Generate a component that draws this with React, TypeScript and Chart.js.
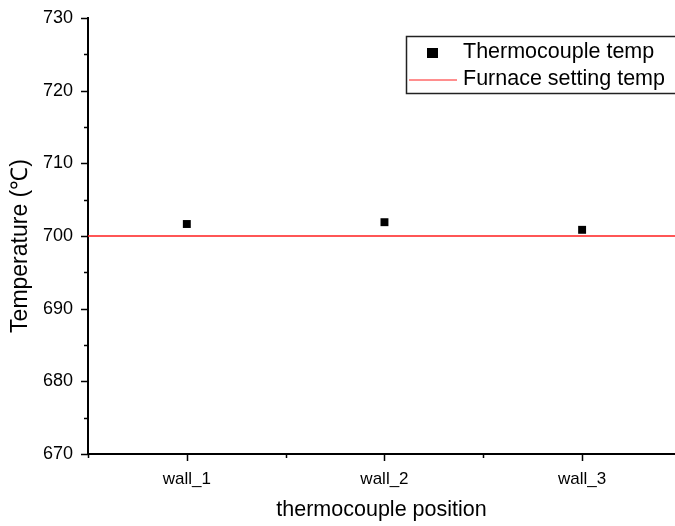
import React, { useEffect, useRef } from 'react';
import { Chart, registerables } from 'chart.js';

Chart.register(...registerables);

const categories = ['wall_1', 'wall_2', 'wall_3'];
const categoryPositions = [1, 2, 3];
const thermocoupleTemps = [701.65, 701.9, 700.85];
const furnaceSetting = 700;
const yMajorTicks = [670, 680, 690, 700, 710, 720, 730];
const yMinorTicks = [675, 685, 695, 705, 715, 725];
const xMajorTicks = [1, 2, 3];
const xMinorTicks = [0.5, 1.5, 2.5, 3.5];
const xMin = 0.5;
const xMax = 3.47;
const yMin = 670;
const yMax = 730;
const seriesLabels = ['Thermocouple temp', 'Furnace setting temp'];
const xTitle = 'thermocouple position';
const yTitle = 'Temperature (℃)';

const FONT = "'Liberation Sans', Arial, sans-serif";
const RED = 'rgb(255,30,30)';

const axisTicksPlugin = {
  id: 'axisTicks',
  afterDraw(chart: any) {
    const ctx = chart.ctx;
    const { left, bottom } = chart.chartArea;
    const ys = chart.scales.y;
    const xs = chart.scales.x;
    ctx.save();
    ctx.strokeStyle = '#000';
    ctx.lineWidth = 1.5;
    ctx.beginPath();
    yMajorTicks.forEach((v) => {
      const p = Math.round(ys.getPixelForValue(v)) + 0.5;
      ctx.moveTo(left - 7, p);
      ctx.lineTo(left, p);
    });
    yMinorTicks.forEach((v) => {
      const p = Math.round(ys.getPixelForValue(v)) + 0.5;
      ctx.moveTo(left - 4, p);
      ctx.lineTo(left, p);
    });
    xMajorTicks.forEach((v) => {
      const p = Math.round(xs.getPixelForValue(v)) + 0.5;
      ctx.moveTo(p, bottom);
      ctx.lineTo(p, bottom + 7);
    });
    xMinorTicks.forEach((v) => {
      const p = Math.round(xs.getPixelForValue(v)) + 0.5;
      ctx.moveTo(p, bottom);
      ctx.lineTo(p, bottom + 4);
    });
    ctx.stroke();
    // y axis title
    ctx.translate(21, 246);
    ctx.rotate(-Math.PI / 2);
    ctx.font = `23px ${FONT}`;
    ctx.fillStyle = '#000';
    ctx.textAlign = 'center';
    ctx.textBaseline = 'middle';
    ctx.fillText(yTitle, 0, 0);
    ctx.restore();
  },
};

const legendPlugin = {
  id: 'boxLegend',
  afterDraw(chart: any) {
    const ctx = chart.ctx;
    const ds = chart.data.datasets;
    ctx.save();
    ctx.strokeStyle = '#222';
    ctx.lineWidth = 1.5;
    ctx.strokeRect(406.5, 36.5, 320, 57);
    ctx.font = `21.5px ${FONT}`;
    ctx.textBaseline = 'middle';
    ctx.textAlign = 'left';
    ctx.fillStyle = ds[0].backgroundColor;
    ctx.fillRect(427, 48, 11, 10);
    ctx.fillStyle = '#000';
    ctx.fillText(ds[0].label, 463, 52);
    ctx.strokeStyle = ds[1].borderColor;
    ctx.lineWidth = 1;
    ctx.beginPath();
    ctx.moveTo(409, 80);
    ctx.lineTo(457, 80);
    ctx.stroke();
    ctx.fillText(ds[1].label, 463, 79);
    ctx.restore();
  },
};

export default function App() {
  const ref = useRef<HTMLCanvasElement>(null);
  useEffect(() => {
    if (!ref.current) return;
    const chart = new Chart(ref.current, {
      type: 'scatter',
      data: {
        datasets: [
          {
            label: seriesLabels[0],
            data: categoryPositions.map((x, i) => ({ x, y: thermocoupleTemps[i] })),
            backgroundColor: '#000',
            borderWidth: 0,
            pointStyle: 'rect',
            pointRadius: 5.6,
            showLine: false,
          },
          {
            label: seriesLabels[1],
            data: [
              { x: xMin, y: furnaceSetting },
              { x: xMax, y: furnaceSetting },
            ],
            borderColor: RED,
            backgroundColor: RED,
            borderWidth: 1.3,
            pointRadius: 0,
            showLine: true,
          },
        ] as any,
      },
      options: {
        animation: false,
        responsive: false,
        devicePixelRatio: 1,
        layout: { autoPadding: false, padding: { top: 18, left: 0, right: 0, bottom: 0 } },
        plugins: {
          legend: { display: false },
          tooltip: { enabled: false },
        },
        scales: {
          x: {
            type: 'linear',
            min: xMin,
            max: xMax,
            afterFit: (s: any) => {
              s.height = 72;
              s.paddingLeft = 0;
              s.paddingRight = 0;
            },
            afterBuildTicks: (s: any) => {
              s.ticks = xMajorTicks.map((v) => ({ value: v }));
            },
            grid: { display: false, drawTicks: false },
            border: { display: true, color: '#000', width: 2 },
            ticks: {
              padding: 15,
              color: '#000',
              font: { family: FONT, size: 17 },
              callback: (v: any) => {
                const i = categoryPositions.indexOf(Number(v));
                return i >= 0 ? categories[i] : '';
              },
            },
            title: {
              display: true,
              text: xTitle,
              color: '#000',
              font: { family: FONT, size: 21.5 },
              padding: { top: 0, bottom: 3 },
            },
          },
          y: {
            type: 'linear',
            min: yMin,
            max: yMax,
            afterFit: (s: any) => {
              s.width = 88;
              s.paddingTop = 0;
              s.paddingBottom = 0;
            },
            afterBuildTicks: (s: any) => {
              s.ticks = yMajorTicks.map((v) => ({ value: v }));
            },
            grid: { display: false, drawTicks: false },
            border: { display: true, color: '#000', width: 2 },
            ticks: {
              padding: 15,
              color: '#000',
              font: { family: FONT, size: 18 },
            },
            title: { display: false },
          },
        },
      },
      plugins: [axisTicksPlugin, legendPlugin],
    });
    return () => chart.destroy();
  }, []);
  return (
    <div style={{ position: 'fixed', left: 0, top: 0, width: 675, height: 526, background: '#fff' }}>
      <canvas ref={ref} width={675} height={526} style={{ width: 675, height: 526, display: 'block' }} />
    </div>
  );
}
